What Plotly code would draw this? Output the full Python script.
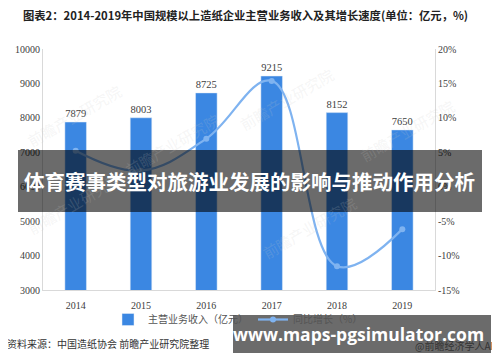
import plotly.graph_objects as go

years = ["2014", "2015", "2016", "2017", "2018", "2019"]
revenue = [7879, 8003, 8725, 9215, 8152, 7650]
growth = [5.22, 2.33, 6.98, 15.37, -11.54, -6.16]
growth_labels = ["5.22%", "2.33%", "6.98%", "15.37%", "-11.54%", "-6.16%"]
left_ticks = [3000, 4000, 5000, 6000, 7000, 8000, 9000, 10000]
left_tick_text = ["3000", "4000", "5000", "6000", "7000", "8000", "9000", "10000"]
right_ticks = [-15, -10, -5, 0, 5, 10, 15, 20]
right_tick_text = ["-15%", "-10%", "-5%", "0%", "5%", "10%", "15%", "20%"]

title_text = "图表2：2014-2019年中国规模以上造纸企业主营业务收入及其增长速度(单位：亿元，%)"
source_text = "资料来源：中国造纸协会 前瞻产业研究院整理"
banner_text = "体育赛事类型对旅游业发展的影响与推动作用分析"
url_text = "www.maps-pgsimulator.com"

SERIF = "Liberation Serif, Times New Roman, serif"
CJK = "Noto Sans CJK SC, sans-serif"

# page-pixel geometry of plot area; the page body has an 8px default margin
OFF = 8
L, R, T, B = 43, 435, 49, 290
W, H = 500, 362
def px(xp):
    return (xp - L) / (R - L)
def py(yp):
    return (B - yp) / (B - T)

fig = go.Figure()
fig.add_trace(go.Bar(
    x=years, y=revenue, name="主营业务收入（亿元）",
    marker=dict(color="#3b87e2"), width=0.33,
    text=[str(v) for v in revenue], textposition="outside",
    textfont=dict(family=SERIF, size=10.5, color="#404040"),
    cliponaxis=False,
))
fig.add_trace(go.Scatter(
    x=years, y=growth, name="同比增长（%）", yaxis="y2",
    mode="lines+markers",
    line=dict(color="#7fb3f0", width=2.2, shape="spline", smoothing=1.1),
    marker=dict(color="#7fb3f0", size=6),
))

# growth value labels
offsets = [(18, 0), (20, -12), (20, -2), (22, 0), (20, 0), (8, -24)]
for i, (yr, g) in enumerate(zip(years, growth)):
    dx, dy = offsets[i]
    fig.add_annotation(x=yr, y=g, xref="x", yref="y2", text=growth_labels[i],
                       showarrow=False, xshift=dx, yshift=dy, xanchor="center",
                       font=dict(family=SERIF, size=10, color="#404040"))

# faint watermarks
wm = [(0.08, 0.88), (0.33, 0.76), (0.62, 0.95), (0.93, 0.66), (0.08, 0.2),
      (0.68, 0.1)]
for (wx, wy) in wm:
    fig.add_annotation(x=wx, y=wy, xref="paper", yref="paper", text="前瞻产业研究院",
                       showarrow=False, textangle=-30, xanchor="center",
                       font=dict(family=CJK, size=15, color="rgba(200,200,200,0.18)"))

fig.update_layout(
    width=W - OFF, height=H - OFF,
    margin=dict(l=L - OFF, r=W - R, t=T - OFF, b=H - B, autoexpand=False),
    paper_bgcolor="white", plot_bgcolor="white",
    bargap=0.6,
    showlegend=True,
    legend=dict(orientation="h", x=px(238), xanchor="center", y=py(305), yanchor="top",
                bgcolor="rgba(0,0,0,0)",
                font=dict(family=CJK, size=10, color="#555555"),
                itemwidth=30, traceorder="normal"),
    xaxis=dict(type="category", range=[-0.5, 5.5], showline=True,
               linecolor="#d9d9d9", linewidth=1, ticks="", ticklabelstandoff=6,
               tickfont=dict(family=SERIF, size=10, color="#404040"), showgrid=False),
    yaxis=dict(range=[3000, 10000], tickvals=left_ticks, ticktext=left_tick_text,
               showline=True, linecolor="#d9d9d9", showgrid=False, zeroline=False,
               tickfont=dict(family=SERIF, size=10, color="#404040"), ticks=""),
    yaxis2=dict(range=[-15, 20], tickvals=right_ticks, ticktext=right_tick_text,
                overlaying="y", side="right", showline=True, linecolor="#d9d9d9",
                showgrid=False, zeroline=False, ticks="",
                tickfont=dict(family=SERIF, size=10, color="#404040")),
)

fig.add_annotation(x=px(21), y=py(15), xref="paper", yref="paper", xanchor="left",
                   yanchor="middle", text="<b>" + title_text + "</b>", showarrow=False,
                   font=dict(family=CJK, size=11.3, color="#222222"))
fig.add_annotation(x=px(5), y=py(343), xref="paper", yref="paper", xanchor="left",
                   yanchor="middle", text=source_text, showarrow=False,
                   font=dict(family=CJK, size=10, color="#333333"))
fig.add_annotation(x=px(413), y=py(345), xref="paper", yref="paper", xanchor="left",
                   yanchor="middle", text="@前瞻经济学人APP", showarrow=False,
                   font=dict(family=CJK, size=10, color="#333333"))

# overlay banners
fig.add_shape(type="rect", xref="paper", yref="paper", layer="above",
              x0=px(18), x1=px(482), y0=py(212), y1=py(150),
              fillcolor="rgba(0,0,0,0.58)", line=dict(width=0))
fig.add_annotation(x=px(249), y=py(181), xref="paper", yref="paper",
                   xanchor="center", yanchor="middle",
                   text="<b>" + banner_text + "</b>", showarrow=False,
                   font=dict(family=CJK, size=20.5, color="white"))
fig.add_shape(type="rect", xref="paper", yref="paper", layer="above",
              x0=px(233), x1=px(491), y0=py(353), y1=py(315),
              fillcolor="rgba(0,0,0,0.58)", line=dict(width=0))
fig.add_annotation(x=px(358), y=py(334), xref="paper", yref="paper",
                   xanchor="center", yanchor="middle",
                   text="<b>" + url_text + "</b>", showarrow=False,
                   font=dict(family="Open Sans, sans-serif", size=17.5, color="white"))

fig.write_html("out.html")
